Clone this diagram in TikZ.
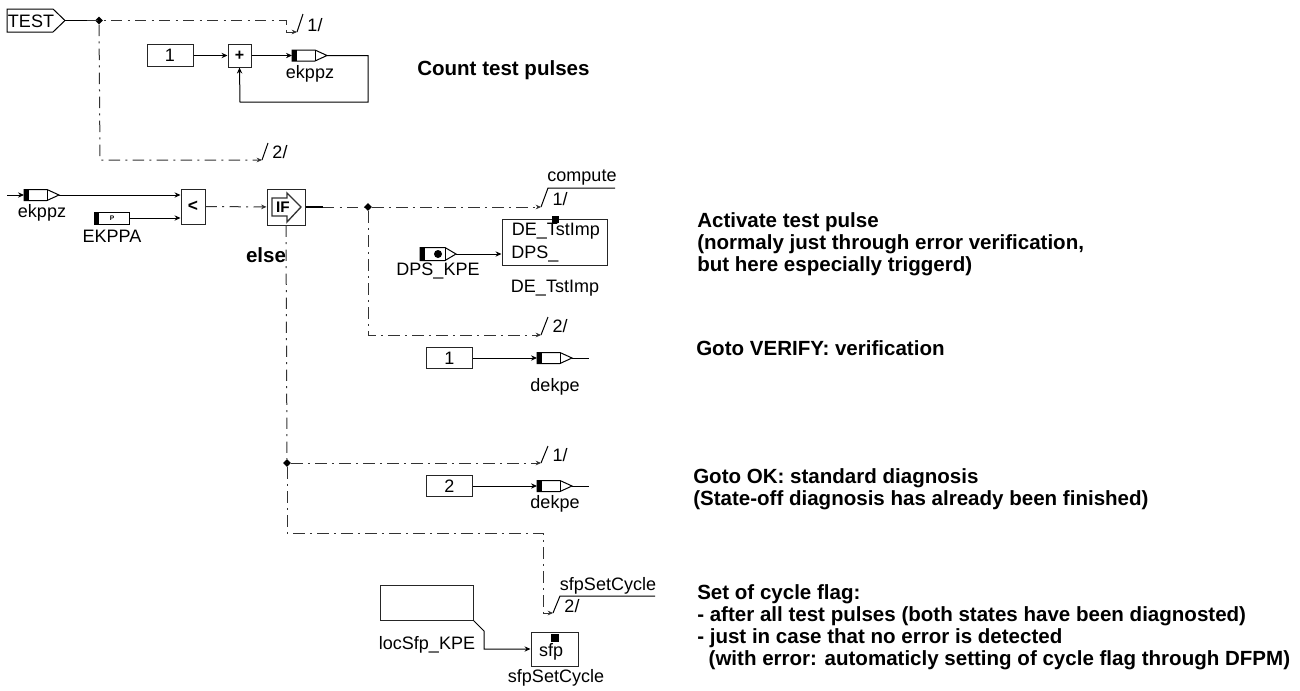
\documentclass[tikz,border=0pt]{standalone}
\usepackage{fontspec}
\setmainfont{Liberation Sans}
\usetikzlibrary{arrows.meta,shapes.geometric}
\tikzset{
  x=0.75pt,y=-0.75pt,
  wire/.style={line width=0.75pt,-{Stealth[length=4.5pt,width=4pt]}},
  plain/.style={line width=0.75pt},
  ctrl/.style={line width=0.75pt,black!80,dash pattern=on 8.5pt off 4pt on 1.5pt off 4pt},
  ctrlarrow/.style={ctrl,-{Stealth[length=4pt,width=3.5pt]}},
  tick/.style={line width=0.75pt},
  blockbox/.style={draw=black!85,line width=0.75pt,fill=white,inner sep=0pt},
  lab/.style={inner sep=0pt,font=\fontsize{13.5pt}{15pt}\selectfont},
  note/.style={inner sep=0pt,anchor=north west,align=left,font=\fontsize{15.4pt}{16.5pt}\selectfont\bfseries},
  junct/.style={diamond,fill=black,inner sep=0pt,minimum size=6pt}
}
% signal block: name, x of left edge, y of centre
\newcommand{\sigblock}[3]{%
  \fill[black] (#2,#3-5.5) rectangle (#2+5,#3+5.5);
  \draw[line width=0.75pt] (#2,#3-5.5) -- (#2+23,#3-5.5) -- (#2+35,#3) -- (#2+23,#3+5.5) -- (#2,#3+5.5) -- cycle;
  \draw[line width=0.75pt] (#2+23,#3-5.5) -- (#2+23,#3+5.5);
  \coordinate (#1in) at (#2,#3);
  \coordinate (#1out) at (#2+35,#3);
}
\begin{document}
\begin{tikzpicture}
\useasboundingbox (0,0) rectangle (1300,690);
% TEST
\draw[line width=0.75pt] (7,9) -- (53,9) -- (65,20.5) -- (53,32) -- (7,32) -- cycle;
\node[lab] (test) at (31,21) {TEST};
\coordinate (testout) at (65,20.5);
\coordinate (testsolid) at (87,20.5);
\node[junct] (j1) at (99,20.5) {};
\draw[plain] (testout) -- (testsolid);
\coordinate (m1) at (297,32);
\coordinate (m2) at (262,160);
\draw[ctrl] (testsolid) -- (286,20.5) -- (286,32);
\draw[ctrlarrow] (286,32) -- (m1);
\draw[tick] (m1) -- (303,14);
\node[lab] (l1a) at (315,25) {1/};
\draw[ctrlarrow] (j1) -- (100,160) -- (m2);
\draw[tick] (m2) -- (268,143);
\node[lab] (l2a) at (280,152) {2/};
% top counter
\node[blockbox,minimum width=34.5pt,minimum height=16pt] (one) at (170,55.5) {};
\node[lab] at (one) {1};
\node[blockbox,minimum width=17.25pt,minimum height=17.25pt] (plus) at (239.5,55.5) {};
\node[lab,font=\fontsize{12pt}{12pt}\selectfont\bfseries] at (plus) {+};
\sigblock{ek}{292}{55.5}
\node[lab] (eklab) at (310,74) {ekppz};
\draw[wire] (one) -- (plus);
\draw[wire] (plus) -- (ekin);
\draw[wire] (ekout) -- (368,55.5) -- (368,102) -- (240,102) -- (plus.south);
\node[note] (n1) at (417,60) {Count test pulses};
% compare row
\coordinate (start) at (7,195);
\sigblock{ekb}{24}{195}
\node[lab] at (42,213) {ekppz};
\draw[wire] (start) -- (ekbin);
\node[blockbox,minimum width=18pt,minimum height=26.25pt] (lt) at (193,206.5) {};
\node[lab,font=\fontsize{13pt}{13pt}\selectfont\bfseries] at (lt) {<};
\draw[wire] (ekbout) -- (lt.west |- ekbout);
\fill[black] (94,212) rectangle (99,224);
\node[draw,line width=0.75pt,minimum width=26.25pt,minimum height=9pt,inner sep=0pt] (ekppa) at (111.5,218) {};
\node[font=\fontsize{5pt}{5pt}\selectfont\bfseries,inner sep=0pt] at (112,218) {P};
\node[lab] at (112,236) {EKPPA};
\draw[wire] (ekppa) -- (lt.west |- ekppa);
\node[blockbox,minimum width=28.5pt,minimum height=27pt] (if) at (286,207) {};
\draw[line width=1pt,black!80] (272,198) -- (287,198) -- (287,193) -- (301,207) -- (287,222) -- (287,216) -- (272,216) -- cycle;
\node[lab,font=\fontsize{11.5pt}{12pt}\selectfont\bfseries] at (283,207) {IF};
\draw[ctrlarrow] (lt) -- (if);
\node[lab,font=\fontsize{15.4pt}{16pt}\selectfont\bfseries] (else) at (266,255) {else};
% IF branches
\node[junct] (j2) at (368,207) {};
\coordinate (ifsolid) at (323,207);
\draw[line width=1pt] (if) -- (ifsolid);
\draw[ctrl] (ifsolid) -- (j2);
\coordinate (m3) at (541,207);
\draw[ctrlarrow] (j2) -- (m3);
\draw[tick] (m3) -- (548,188) -- (615,188);
\node[lab] at (582,178) {compute};
\node[lab] at (560,199) {1/};
\node[blockbox,minimum width=78.75pt,minimum height=34.5pt] (de) at (554.5,242) {};
\fill[black] (551.5,215.5) rectangle (558.5,222.5);
\node[lab,anchor=west] at (511.5,231) {DE\_TstImp};
\node[lab,anchor=west] at (511,254) {DPS\_};
\node[lab] at (555,288) {DE\_TstImp};
\coordinate (dpsin) at (420,254);
\fill[black] (420,247.5) rectangle (425,260.5);
\draw[line width=0.75pt] (420,247.5) -- (445,247.5) -- (456,254) -- (445,260.5) -- (420,260.5) -- cycle;
\draw[line width=0.75pt] (445,247.5) -- (445,260.5);
\fill[black] (438,254) circle (3pt);
\coordinate (dpsout) at (456,254);
\node[lab] at (438,271) {DPS\_KPE};
\draw[wire] (dpsout) -- (de.west |- dpsout);
\coordinate (m4) at (541,335);
\draw[ctrlarrow] (j2) -- (368,335) -- (m4);
\draw[tick] (m4) -- (548,317);
\node[lab] at (560,326) {2/};
\node[blockbox,minimum width=35pt,minimum height=15.5pt] (oneb) at (449.5,358) {};
\node[lab] at (oneb) {1};
\sigblock{de1}{537}{358}
\draw[wire] (oneb) -- (de1in);
\coordinate (de1end) at (589,358);
\draw[plain] (de1out) -- (de1end);
\node[lab] at (555,387) {dekpe};
% else branches
\node[junct] (j3) at (287,463) {};
\draw[ctrl] (if.south) -- (j3);
\coordinate (m5) at (541,463);
\draw[ctrlarrow] (j3) -- (m5);
\draw[tick] (m5) -- (548,446);
\node[lab] at (560,455) {1/};
\node[blockbox,minimum width=35pt,minimum height=16pt] (two) at (449.5,486) {};
\node[lab] at (two) {2};
\sigblock{de2}{537}{486}
\draw[wire] (two) -- (de2in);
\coordinate (de2end) at (589,486);
\draw[plain] (de2out) -- (de2end);
\node[lab] at (555,504) {dekpe};
\coordinate (m6) at (553,613);
\draw[ctrl] (j3) -- (287,533) -- (543,533) -- (543,613);
\draw[ctrlarrow] (543,613) -- (m6);
\draw[tick] (m6) -- (560,596) -- (655,596);
\node[lab] at (608,586) {sfpSetCycle};
\node[lab] at (572,606) {2/};
% sfp
\node[blockbox,minimum width=69.75pt,minimum height=26.25pt] (loc) at (426.5,602.5) {};
\node[lab] at (427,645) {locSfp\_KPE};
\node[blockbox,minimum width=35.25pt,minimum height=25.5pt] (sfp) at (554.5,649) {};
\fill[black] (551,634) rectangle (559,642);
\node[lab] at (551,652) {sfp};
\node[lab] at (556,678) {sfpSetCycle};
\draw[wire] (loc.south east) -- (484,631) -- (484,649) -- (sfp.west);
% notes
\node[note] (n2) at (697,212) {Activate test pulse\\(normaly just through error verification,\\but here especially triggerd)};
\node[note] (n3) at (696,340) {Goto VERIFY: verification};
\node[note] (n4) at (693,468) {Goto OK: standard diagnosis\\(State-off diagnosis has already been finished)};
\node[note] (n5) at (697,584) {Set of cycle flag:\\- after all test pulses (both states have been diagnosted)\\- just in case that no error is detected\\\ \ (with error: automaticly setting of cycle flag through DFPM)};
\end{tikzpicture}
\end{document}
